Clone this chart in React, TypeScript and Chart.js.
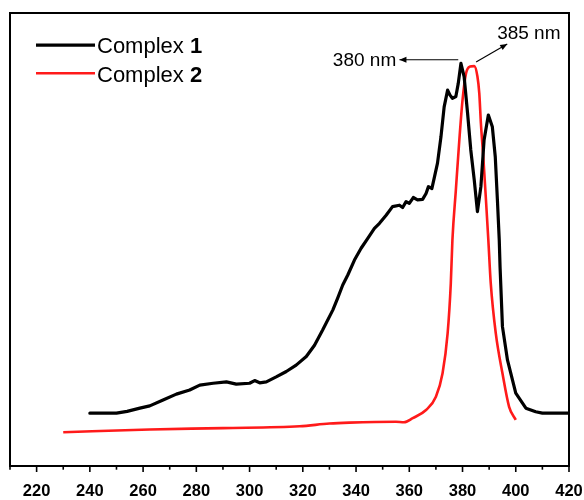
import React, { useEffect, useRef } from "react";
import { Chart, registerables } from "chart.js";

Chart.register(...registerables);

// Complex 1 (black) spectrum
const complex1Wavelength = [
  240, 250, 254, 258.8, 262.5, 267.5, 272.5, 277.5, 281.3, 286.3, 291.3, 295, 300, 301.9, 303.8, 306.3,
  310, 313.8, 317.5, 321.3, 324.4, 327.5, 331.3, 333.1, 335, 336.9, 339.4, 341.9, 344.4, 346.9, 348.8,
  351.3, 353.7, 356.3, 357.5, 358.8, 360, 361.5, 363.1, 365, 366.3, 367.2, 368.5, 369.4, 370.6, 371.9,
  373.1, 374.4, 375.3, 376.2, 377.5, 378.4, 379.4, 380.6, 381.9, 383.1, 384.4, 385.6, 386.9, 388.1,
  389.7, 391.2, 392.3, 393.1, 393.8, 394.1, 395, 396.9, 400, 403.8, 407.5, 410, 420,
];
const complex1Absorbance = [
  0.116, 0.116, 0.12, 0.127, 0.132, 0.145, 0.158, 0.167, 0.178, 0.182, 0.185, 0.18, 0.182, 0.188, 0.183, 0.185,
  0.196, 0.208, 0.222, 0.241, 0.266, 0.3, 0.344, 0.37, 0.399, 0.421, 0.454, 0.48, 0.502, 0.524, 0.535,
  0.553, 0.572, 0.575, 0.57, 0.583, 0.579, 0.592, 0.587, 0.588, 0.601, 0.616, 0.612, 0.636, 0.668, 0.726,
  0.792, 0.829, 0.818, 0.811, 0.815, 0.844, 0.888, 0.859, 0.778, 0.697, 0.631, 0.561, 0.616, 0.719,
  0.774, 0.748, 0.682, 0.587, 0.498, 0.439, 0.307, 0.233, 0.16, 0.127, 0.119, 0.116, 0.116,
];

// Complex 2 (red) spectrum
const complex2Wavelength = [
  230, 262.5, 290, 318.8, 330, 337.5, 355, 358, 361.3, 366.3, 370, 372.5, 374.4, 375.6, 376.2, 377.5,
  378.8, 380, 381.3, 382.8, 384.4, 385.6, 386.3, 386.9, 387.8, 388.8, 389.7, 390.6, 392.5, 395, 397.5, 400,
];
const complex2Absorbance = [
  0.074, 0.08, 0.083, 0.087, 0.093, 0.095, 0.097, 0.096, 0.105, 0.123, 0.152, 0.204, 0.292, 0.403, 0.498, 0.609,
  0.719, 0.807, 0.866, 0.881, 0.882, 0.859, 0.822, 0.756, 0.682, 0.587, 0.498, 0.403, 0.292, 0.204, 0.13, 0.101,
];

const seriesNames = ["Complex ", "Complex "];
const seriesNumbers = ["1", "2"];
const seriesColors = ["#000000", "#ff1a1a"];

const xLabelValues = [220, 240, 260, 280, 300, 320, 340, 360, 380, 400, 420];

// peak annotations: text, text anchor [x, y], arrow tail [x, y], arrow head [x, y]
const peakTexts = ["380 nm", "385 nm"];
const peakTextAnchors = [
  [355.1, 0.896],
  [393.0, 0.955],
];
const peakArrowTails = [
  [378.4, 0.896],
  [385.1, 0.891],
];
const peakArrowHeads = [
  [356.3, 0.896],
  [396.8, 0.931],
];

function toPoints(xs: number[], ys: number[]) {
  return xs.map((x, i) => ({ x, y: ys[i] }));
}

const decorPlugin = {
  id: "decor",
  afterDraw(chart: any) {
    const { ctx, chartArea, scales } = chart;
    const xs = scales.x;
    const ys = scales.y;
    const L = Math.round(chartArea.left);
    const T = Math.round(chartArea.top);
    const R = Math.round(chartArea.right);
    const B = Math.round(chartArea.bottom);
    ctx.save();
    // frame
    ctx.strokeStyle = "#000000";
    ctx.lineWidth = 2;
    ctx.strokeRect(L, T, R - L, B - T);
    // tick marks
    ctx.lineWidth = 1.6;
    for (let v = 210; v <= 420; v += 10) {
      const px = xs.getPixelForValue(v);
      const len = v % 20 === 0 ? 6 : 3.7;
      ctx.beginPath();
      ctx.moveTo(px, B);
      ctx.lineTo(px, B + len);
      ctx.stroke();
    }
    // legend
    const legendX = chartArea.left + 26;
    const rowY = [chartArea.top + 32.5, chartArea.top + 60.5];
    const baseY = [chartArea.top + 40, chartArea.top + 69];
    for (let i = 0; i < 2; i++) {
      ctx.strokeStyle = seriesColors[i];
      ctx.lineWidth = i === 0 ? 3.2 : 2.6;
      ctx.beginPath();
      ctx.moveTo(legendX, rowY[i]);
      ctx.lineTo(legendX + 59, rowY[i]);
      ctx.stroke();
      ctx.fillStyle = "#000";
      ctx.textBaseline = "alphabetic";
      ctx.textAlign = "left";
      ctx.font = "22px 'Liberation Sans', Arial, sans-serif";
      const tx = legendX + 61;
      ctx.fillText(seriesNames[i], tx, baseY[i]);
      const w = ctx.measureText(seriesNames[i]).width;
      ctx.font = "bold 22px 'Liberation Sans', Arial, sans-serif";
      ctx.fillText(seriesNumbers[i], tx + w, baseY[i]);
    }
    // peak annotations
    ctx.font = "19px 'Liberation Sans', Arial, sans-serif";
    ctx.fillStyle = "#000";
    ctx.strokeStyle = "#000";
    for (let i = 0; i < peakTexts.length; i++) {
      const tx = xs.getPixelForValue(peakTextAnchors[i][0]);
      const ty = ys.getPixelForValue(peakTextAnchors[i][1]);
      ctx.textAlign = i === 0 ? "right" : "left";
      ctx.textBaseline = "middle";
      ctx.fillText(peakTexts[i], tx, ty + 1);
      const x0 = xs.getPixelForValue(peakArrowTails[i][0]);
      const y0 = ys.getPixelForValue(peakArrowTails[i][1]);
      const x1 = xs.getPixelForValue(peakArrowHeads[i][0]);
      const y1 = ys.getPixelForValue(peakArrowHeads[i][1]);
      ctx.lineWidth = 1.1;
      ctx.beginPath();
      ctx.moveTo(x0, y0);
      ctx.lineTo(x1, y1);
      ctx.stroke();
      const ang = Math.atan2(y1 - y0, x1 - x0);
      const hl = 7;
      const hw = 3;
      ctx.beginPath();
      ctx.moveTo(x1, y1);
      ctx.lineTo(x1 - hl * Math.cos(ang) + hw * Math.sin(ang), y1 - hl * Math.sin(ang) - hw * Math.cos(ang));
      ctx.lineTo(x1 - hl * Math.cos(ang) - hw * Math.sin(ang), y1 - hl * Math.sin(ang) + hw * Math.cos(ang));
      ctx.closePath();
      ctx.fill();
    }
    ctx.restore();
  },
};

export default function App() {
  const canvasRef = useRef<HTMLCanvasElement | null>(null);

  useEffect(() => {
    document.body.style.margin = "0";
    document.body.style.overflow = "hidden";
    const canvas = canvasRef.current;
    if (!canvas) return;
    const chart = new Chart(canvas, {
      type: "line",
      data: {
        datasets: [
          {
            label: "Complex 1",
            data: toPoints(complex1Wavelength, complex1Absorbance),
            borderColor: seriesColors[0],
            borderWidth: 3.2,
            pointRadius: 0,
            tension: 0,
            fill: false,
            borderJoinStyle: "round",
            borderCapStyle: "round",
          },
          {
            label: "Complex 2",
            data: toPoints(complex2Wavelength, complex2Absorbance),
            borderColor: seriesColors[1],
            borderWidth: 2.6,
            pointRadius: 0,
            cubicInterpolationMode: "monotone",
            fill: false,
            borderJoinStyle: "round",
          },
        ],
      },
      options: {
        responsive: false,
        animation: false,
        events: [],
        layout: { padding: { left: 10, right: 15, top: 12.7, bottom: 0 } },
        plugins: { legend: { display: false }, tooltip: { enabled: false }, title: { display: false } },
        scales: {
          x: {
            type: "linear",
            min: 210,
            max: 420,
            grid: { display: false, drawTicks: false },
            border: { display: false },
            afterFit: (scale: any) => {
              scale.height = 34.3;
              scale.paddingLeft = 0;
              scale.paddingRight = 14;
            },
            ticks: {
              stepSize: 10,
              autoSkip: false,
              maxRotation: 0,
              padding: 15.5,
              color: "#000",
              font: { family: "'Liberation Sans', Arial, sans-serif", size: 16.5, weight: "bold" },
              callback: (v: any) => (xLabelValues.includes(Number(v)) ? String(v) : ""),
            },
          },
          y: {
            display: false,
            min: 0,
            max: 1,
          },
        },
      },
      plugins: [decorPlugin],
    });
    return () => chart.destroy();
  }, []);

  return (
    <div style={{ width: 584, height: 500, background: "#fff" }}>
      <canvas ref={canvasRef} width={584} height={500} style={{ display: "block" }} />
    </div>
  );
}
